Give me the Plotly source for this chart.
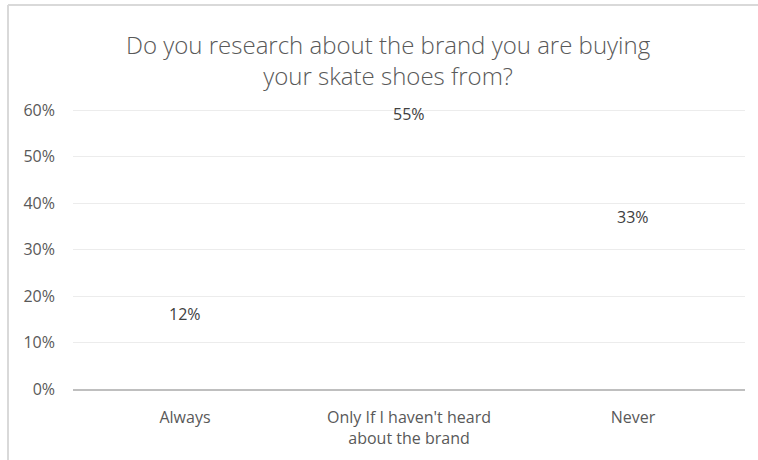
import plotly.graph_objects as go

# Survey answers and share of respondents
categories = ["Always", "Only If I haven't heard<br>about the brand", "Never"]
shares = [0.12, 0.55, 0.33]
y_ticks = [0, 0.1, 0.2, 0.3, 0.4, 0.5, 0.6]
title_text = "Do you research about the brand you are buying<br>your skate shoes from?"

W, H = 758, 460
L, R, T, B = 73, 745, 105, 389          # plot area edges in pixels
TOP_TICK_PX = 110                        # pixel row of the 60% gridline
text_color = "#595959"
font_family = "'Open Sans', Lato, sans-serif"


def px_x(px):
    return (px - L) / (R - L)


def px_y(py):
    return (B - py) / (B - T)


fig = go.Figure()
# bars are drawn without fill; only their value labels show
fig.add_trace(go.Bar(
    x=categories,
    y=shares,
    marker=dict(color="rgba(0,0,0,0)", line=dict(width=0)),
    width=0.5,
    hoverinfo="skip",
))

labels = [
    dict(x=c, y=v, xref="x", yref="y", text=f"{v:.0%}",
         showarrow=False, xanchor="center", yanchor="middle", yshift=19,
         font=dict(size=16, color="#404040", family=font_family))
    for c, v in zip(categories, shares)
]

fig.update_layout(
    width=W, height=H,
    margin=dict(l=L, r=W - R, t=T, b=H - B),
    paper_bgcolor="white",
    plot_bgcolor="white",
    showlegend=False,
    font=dict(family=font_family, color=text_color, size=16),
    xaxis=dict(
        showgrid=False,
        showline=True, linecolor="#bfbfbf", linewidth=2,
        ticks="", ticklabelstandoff=13,
        tickfont=dict(size=16, color=text_color),
    ),
    yaxis=dict(
        range=[0, 0.6 * (B - T) / (B - TOP_TICK_PX)],
        tickvals=y_ticks,
        tickformat=".0%",
        showgrid=True, gridcolor="#ececec", gridwidth=1,
        zeroline=False, showline=False,
        ticks="", ticklabelstandoff=17,
        tickfont=dict(size=16, color=text_color),
    ),
    annotations=labels + [dict(
        text=title_text,
        xref="paper", yref="paper",
        x=px_x(388), y=px_y(60),
        xanchor="center", yanchor="middle",
        showarrow=False, align="center",
        font=dict(size=24, color=text_color, family=font_family, weight=300),
    )],
    shapes=[
        dict(type="line", xref="paper", yref="paper",
             x0=px_x(8), x1=px_x(758), y0=px_y(5), y1=px_y(5),
             line=dict(color="#d9d9d9", width=2)),
        dict(type="line", xref="paper", yref="paper",
             x0=px_x(8), x1=px_x(8), y0=px_y(5), y1=px_y(460),
             line=dict(color="#d9d9d9", width=2)),
    ],
)

fig.write_html("out.html")
